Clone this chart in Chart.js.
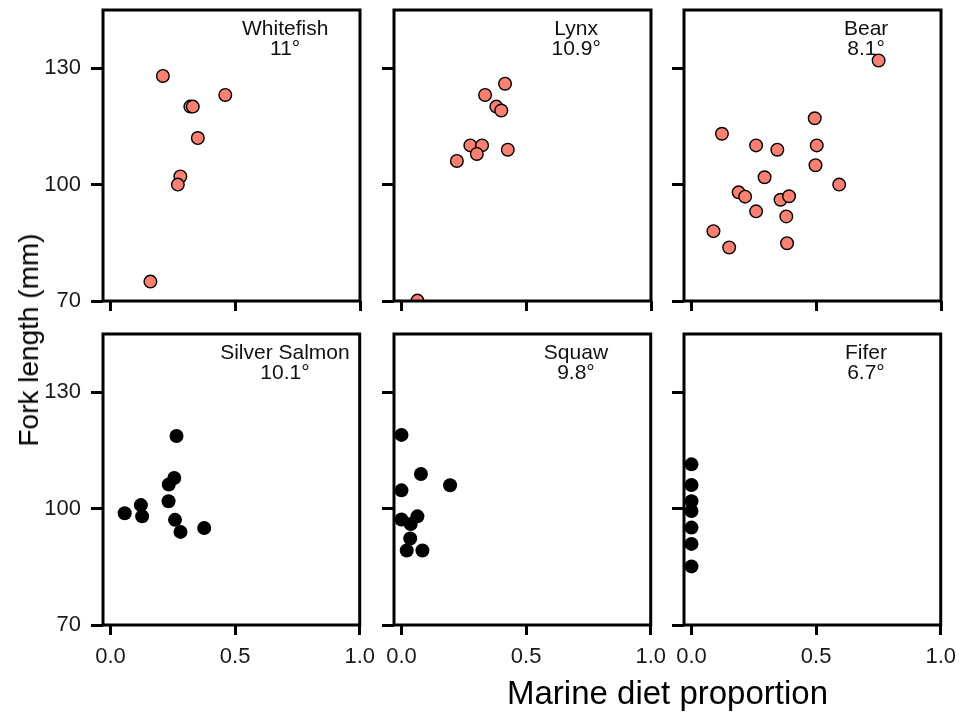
<!DOCTYPE html>
<html>
<head>
<meta charset="utf-8">
<title>Fork length and marine diet</title>
<script src="https://cdn.jsdelivr.net/npm/chart.js@4.4.1/dist/chart.umd.min.js"></script>
<style>
  body { margin: 0; background: #fff; overflow: hidden; }
  #figura { position: relative; width: 959px; height: 719px; font-family: "Liberation Sans", Arial, sans-serif; }
  #figura canvas { position: absolute; }
  #tituloX { position: absolute; left: 507px; top: 674px; font-size: 33px; color: #000; white-space: nowrap; }
  #tituloY { position: absolute; left: 29px; top: 340px; font-size: 28px; color: #000; white-space: nowrap;
             transform: translate(-50%, -50%) rotate(-90deg); }
</style>
</head>
<body>
<div id="figura">
  <canvas id="painel1"></canvas>
  <canvas id="painel2"></canvas>
  <canvas id="painel3"></canvas>
  <canvas id="painel4"></canvas>
  <canvas id="painel5"></canvas>
  <canvas id="painel6"></canvas>
  <div id="tituloY">Fork length (mm)</div>
  <div id="tituloX">Marine diet proportion</div>
</div>
<script>
// nomes dos lagos e temperaturas
const lakeNames = ['Whitefish', 'Lynx', 'Bear', 'Silver Salmon', 'Squaw', 'Fifer'];
const lakeTemps = ['11°', '10.9°', '8.1°', '10.1°', '9.8°', '6.7°'];

const xTicks = [0, 0.5, 1];
const yTicks = [70, 100, 130];

// proporcao marinha (x) e comprimento (y) por lago
const whitefishDiet = [0.21, 0.46, 0.32, 0.33, 0.35, 0.28, 0.27, 0.16];
const whitefishLength = [128.0, 123.1, 120.1, 120.1, 112.0, 102.1, 100.0, 75.0];

const lynxDiet = [0.415, 0.335, 0.38, 0.40, 0.276, 0.323, 0.302, 0.426, 0.222, 0.064];
const lynxLength = [126.0, 123.1, 120.1, 119.1, 110.1, 110.1, 107.9, 109.0, 106.1, 70.1];

const bearDiet = [0.75, 0.494, 0.122, 0.259, 0.344, 0.502, 0.497, 0.293, 0.592, 0.189, 0.215, 0.357, 0.391, 0.259, 0.38, 0.088, 0.151, 0.383];
const bearLength = [132.0, 117.1, 113.1, 110.1, 109.0, 110.1, 105.0, 101.9, 100.0, 98.0, 96.9, 96.1, 97.0, 93.1, 91.8, 88.0, 83.8, 84.9];

const salmonDiet = [0.265, 0.256, 0.234, 0.233, 0.122, 0.057, 0.127, 0.259, 0.281, 0.376];
const salmonLength = [118.7, 107.9, 106.2, 101.9, 100.9, 98.8, 98.0, 97.1, 94.0, 95.0];

const squawDiet = [0, 0.078, 0.195, 0, 0, 0.064, 0.037, 0.035, 0.021, 0.084];
const squawLength = [119.0, 108.9, 106.0, 104.7, 97.2, 98.0, 96.0, 92.3, 89.2, 89.2];

const fiferDiet = [0, 0, 0, 0, 0, 0, 0];
const fiferLength = [111.4, 106.1, 101.9, 99.4, 95.1, 90.9, 85.1];

// posicao dos paineis na figura
const colLefts = [103, 394, 684];
const rowTops = [10, 334];
const panelW = 257;
const panelH = 291;

// caixa preta em volta de cada painel
const moldura = {
  id: 'moldura',
  afterDatasetsDraw(chart) {
    const a = chart.chartArea;
    const ctx = chart.ctx;
    ctx.save();
    ctx.strokeStyle = '#000';
    ctx.lineWidth = 3;
    ctx.strokeRect(a.left, a.top, a.right - a.left, a.bottom - a.top);
    ctx.restore();
  }
};

// nome do lago e temperatura dentro do painel
const rotulo = {
  id: 'rotulo',
  afterDraw(chart, args, opts) {
    const ctx = chart.ctx;
    const x = chart.scales.x.getPixelForValue(0.7);
    ctx.save();
    ctx.fillStyle = '#111';
    ctx.font = '21px "Liberation Sans", Arial, sans-serif';
    ctx.textAlign = 'center';
    ctx.textBaseline = 'middle';
    ctx.fillText(opts.nome, x, chart.scales.y.getPixelForValue(140));
    ctx.fillText(opts.temp, x, chart.scales.y.getPixelForValue(135));
    ctx.restore();
  }
};

function painel(id, diet, length, nome, temp, col, row) {
  var padL = col == 0 ? colLefts[0] : 30;
  var padT = 24;
  var padR = 24;
  var padB = row == 1 ? 70 : 24;

  var canvas = document.getElementById(id);
  var w = panelW + padL + padR;
  var h = panelH + padT + padB;
  canvas.width = w;
  canvas.height = h;
  canvas.style.width = w + 'px';
  canvas.style.height = h + 'px';
  canvas.style.left = (colLefts[col] - padL) + 'px';
  canvas.style.top = (rowTops[row] - padT) + 'px';

  var pontos = diet.map(function (d, i) { return { x: d, y: length[i] }; });
  var salmao = row == 0;

  const data = {
    datasets: [{
      data: pontos,
      backgroundColor: salmao ? '#FA8072' : '#000',
      borderColor: '#000',
      borderWidth: salmao ? 1.4 : 0,
      pointRadius: salmao ? 6.3 : 7,
      pointHoverRadius: salmao ? 6.3 : 7,
      clip: 0
    }]
  };

  const tickFont = { family: '"Liberation Sans", Arial, sans-serif', size: 22 };

  const config = {
    type: 'scatter',
    data: data,
    options: {
      responsive: false,
      animation: false,
      events: [],
      layout: { padding: { top: padT, right: padR, left: 0, bottom: 0 } },
      plugins: {
        legend: { display: false },
        tooltip: { enabled: false },
        rotulo: { nome: nome, temp: temp }
      },
      scales: {
        x: {
          type: 'linear',
          min: -0.03,
          max: 1,
          afterBuildTicks: function (s) { s.ticks = xTicks.map(function (v) { return { value: v }; }); },
          afterFit: function (s) { s.height = padB; },
          border: { display: false },
          grid: { drawOnChartArea: false, drawTicks: true, tickLength: 10, tickWidth: 3, tickColor: '#000' },
          ticks: {
            display: row == 1,
            color: '#1a1a1a',
            font: tickFont,
            padding: 9,
            maxRotation: 0,
            callback: function (v) { return v.toFixed(1); }
          }
        },
        y: {
          type: 'linear',
          min: 70,
          max: 145,
          afterBuildTicks: function (s) { s.ticks = yTicks.map(function (v) { return { value: v }; }); },
          afterFit: function (s) { s.width = padL; },
          border: { display: false },
          grid: { drawOnChartArea: false, drawTicks: true, tickLength: 12, tickWidth: 3, tickColor: '#000' },
          ticks: {
            display: col == 0,
            color: '#1a1a1a',
            font: tickFont,
            padding: 10
          }
        }
      }
    },
    plugins: [moldura, rotulo]
  };

  return new Chart(canvas, config);
}

painel('painel1', whitefishDiet, whitefishLength, lakeNames[0], lakeTemps[0], 0, 0);
painel('painel2', lynxDiet, lynxLength, lakeNames[1], lakeTemps[1], 1, 0);
painel('painel3', bearDiet, bearLength, lakeNames[2], lakeTemps[2], 2, 0);
painel('painel4', salmonDiet, salmonLength, lakeNames[3], lakeTemps[3], 0, 1);
painel('painel5', squawDiet, squawLength, lakeNames[4], lakeTemps[4], 1, 1);
painel('painel6', fiferDiet, fiferLength, lakeNames[5], lakeTemps[5], 2, 1);
</script>
</body>
</html>
